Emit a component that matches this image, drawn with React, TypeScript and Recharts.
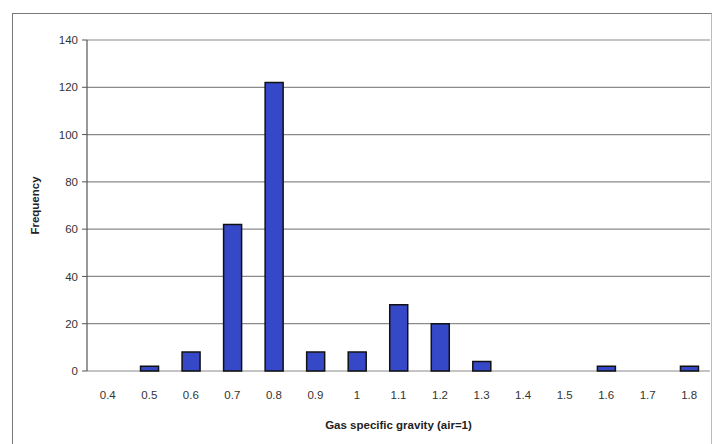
import { BarChart, Bar, XAxis, YAxis, CartesianGrid } from 'recharts'

const gravity = ['0.4', '0.5', '0.6', '0.7', '0.8', '0.9', '1', '1.1', '1.2', '1.3', '1.4', '1.5', '1.6', '1.7', '1.8']
const frequency = [0, 2, 8, 62, 122, 8, 8, 28, 20, 4, 0, 0, 2, 0, 2]
const yTicks = [0, 20, 40, 60, 80, 100, 120, 140]
const binEdges = Array.from({ length: gravity.length + 1 }, (_, i) => i)

const data = gravity.map((g, i) => ({ g, f: frequency[i] }))

const font = '"Liberation Sans", Arial, sans-serif'

export default function App() {
  return (
    <div style={{ position: 'absolute', left: 0, top: 0, width: 715, height: 444, background: '#fff', fontFamily: font }}>
      <div
        style={{
          position: 'absolute',
          left: 12,
          top: 13,
          width: 698,
          height: 440,
          borderTop: '1.5px solid #777',
          borderLeft: '1.5px solid #777',
          borderRight: '1.5px solid #bbb',
        }}
      />
      <BarChart
        width={715}
        height={444}
        data={data}
        margin={{ top: 40, right: 5, left: 0, bottom: 0 }}
        barSize={18}
        style={{ position: 'absolute', left: 0, top: 0 }}
      >
        <CartesianGrid vertical={false} stroke="#8a8a8a" strokeWidth={1.2} />
        <XAxis
          xAxisId="edges"
          type="number"
          domain={[0, gravity.length]}
          ticks={binEdges}
          tick={false}
          tickSize={5}
          height={0}
          axisLine={{ stroke: '#555', strokeWidth: 1.2 }}
          tickLine={{ stroke: '#555' }}
        />
        <XAxis
          dataKey="g"
          height={73}
          axisLine={false}
          tickLine={false}
          tickSize={6}
          tickMargin={14}
          interval={0}
          tick={{ fontSize: 11.5, fill: '#333', fontFamily: font }}
          label={{
            value: 'Gas specific gravity (air=1)',
            position: 'insideBottom',
            offset: 15,
            style: { fontSize: 11.5, fontWeight: 'bold', fill: '#222', fontFamily: font },
          }}
        />
        <YAxis
          width={87}
          domain={[0, 140]}
          ticks={yTicks}
          interval={0}
          tickSize={5}
          tickMargin={4}
          axisLine={{ stroke: '#555', strokeWidth: 1.2 }}
          tickLine={{ stroke: '#555' }}
          tick={{ fontSize: 11.5, fill: '#333', fontFamily: font }}
          label={{
            value: 'Frequency',
            angle: -90,
            position: 'insideLeft',
            offset: 35,
            style: { fontSize: 11.5, fontWeight: 'bold', fill: '#222', fontFamily: font, textAnchor: 'middle' },
          }}
        />
        <YAxis
          yAxisId="frame"
          orientation="right"
          width={0}
          tick={false}
          tickLine={false}
          axisLine={{ stroke: '#888', strokeWidth: 1.2 }}
        />
        <Bar dataKey="f" fill="#3548c8" stroke="#111" strokeWidth={1.5} isAnimationActive={false} />
      </BarChart>
    </div>
  )
}
